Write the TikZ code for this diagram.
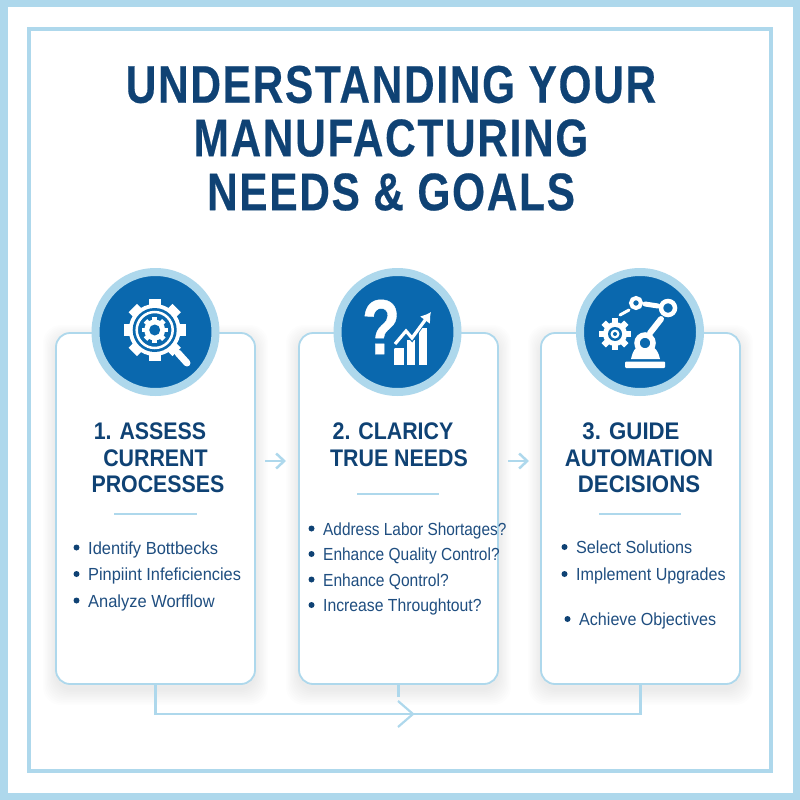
\documentclass[tikz,border=0pt]{standalone}
\usepackage{fontspec}
\setmainfont{Liberation Sans}
\usetikzlibrary{calc,positioning,arrows.meta,backgrounds}

\definecolor{framecol}{HTML}{AED8EC}
\definecolor{bluecol}{HTML}{0A68AE}
\definecolor{navycol}{HTML}{0F4274}
\definecolor{bodycol}{HTML}{1F4E80}

\tikzset{
	card/.style={draw=framecol, line width=1.8pt, rounded corners=14pt, fill=white, minimum width=199pt, minimum height=351pt, inner sep=0pt, outer sep=0pt},
	badge/.style={circle, draw=framecol, line width=8pt, fill=bluecol, minimum size=120pt, inner sep=0pt, outer sep=0pt},
	maintitle/.style={text=navycol, font=\fontsize{53}{53}\selectfont\bfseries\addfontfeature{LetterSpace=4,FakeBold=.4}, xscale=.8, inner sep=0pt},
	cardtitle/.style={text=navycol, font=\fontsize{24}{24}\selectfont\bfseries, xscale=.89, inner sep=0pt},
	bullet/.style={text=bodycol, font=\fontsize{17.5}{18}\selectfont, anchor=base west, inner sep=0pt},
	dot/.style={circle, fill=navycol, minimum size=6pt, inner sep=0pt},
	link/.style={draw=framecol, line width=2.2pt},
	nextarrow/.style={draw=framecol, line width=2.5pt, -{Straight Barb[length=8pt,width=15pt,line width=2.5pt]}},
	iconline/.style={draw=white, line cap=round},
}

% gear: centre, body radius, tooth tip radius, hole radius
\newcommand{\geartooth}[4]{
	\foreach \a in {0,45,...,315}
		\fill[white, rotate around={\a:(#1)}] ($(#1)+(-.19*#3,0)$) rectangle ($(#1)+(.19*#3,-#3)$);
	\fill[white] (#1) circle (#2);
	\fill[bluecol] (#1) circle (#4);
}

\begin{document}
\begin{tikzpicture}[x=1pt,y=-1pt]
		\useasboundingbox (0,0) rectangle (800,800);
		\draw[framecol, line width=7.5pt] (3.75,3.75) rectangle (796.25,796.25);
		\draw[framecol, line width=3.5pt] (29,29) rectangle (771,771);

		\node[maintitle] (titleA) at (391,84.5) {UNDERSTANDING YOUR};
		\node[maintitle] (titleB) at (391,138) {MANUFACTURING};
		\node[maintitle] (titleC) at (391,192) {NEEDS \& GOALS};

		\node[card] (cardA) at (155.5,508.5) {};
		\node[card] (cardB) at (398.5,508.5) {};
		\node[card] (cardC) at (640.5,508.5) {};

		\begin{scope}[on background layer]
			\foreach \s in {1,...,10}
				\foreach \c in {cardA,cardB,cardC}
					\fill[black, opacity=.006, rounded corners=18pt] ($(\c.north west)+(-1.3*\s,-1.3*\s+5)$) rectangle ($(\c.south east)+(1.3*\s,1.6*\s+5)$);
		\end{scope}

		\node[badge] (badgeA) at (155.5,332) {};
		\node[badge] (badgeB) at (397.5,332) {};
		\node[badge] (badgeC) at (640,332) {};

		% gear and lens
		\coordinate (gearA) at (154.7,330);
		\geartooth{gearA}{26}{31}{22}
		\draw[white, line width=2.5pt] (gearA) circle (18);
		\geartooth{gearA}{10.5}{13}{5.5}
		\draw[white, line width=3pt] (171,346) -- (178,353);
		\draw[iconline, line width=7pt] (178,353) -- (187,363);

		% question and chart
		\node[text=white, font=\fontsize{78}{78}\selectfont\bfseries\addfontfeature{FakeBold=.6}, xscale=.8, inner sep=0pt] (askmark) at (381,327) {?};
		\fill[white] (394,365) rectangle (403.5,348);
		\fill[white] (407,365) rectangle (415,340);
		\fill[white] (419,365) rectangle (427,328);
		\draw[bluecol, line width=5.5pt] (392,347) -- (406,331) -- (412,338) -- (428,315);
		\draw[white, line width=3.2pt, -{Latex[length=10pt,width=13pt]}] (395,344) -- (406,331) -- (412,338) -- (431,312);

		% robot arm
		\coordinate (gearC) at (615,334);
		\geartooth{gearC}{12}{16}{7}
		\fill[white] (gearC) circle (4.5);
		\fill[bluecol] (gearC) circle (2);
		\draw[iconline, line width=3pt] (620,315) -- (629,310);
		\draw[iconline, line width=5pt] (645,304) -- (658,306);
		\draw[iconline, line width=6pt] (661,319) -- (650,333);
		\fill[white] (631,359) .. controls (633,350) and (636,345) .. (645,345) .. controls (654,345) and (658,350) .. (660,359) -- cycle;
		\fill[white, rounded corners=1pt] (625,361.5) rectangle (665,368);
		\draw[white, line width=4pt, fill=bluecol] (636,303) circle (5);
		\draw[white, line width=4.5pt, fill=bluecol] (668,308) circle (7);
		\draw[white, line width=5.5pt, fill=bluecol] (645,343) circle (8);

		\node[cardtitle] (headA) at (150,431) {1. ASSESS};
		\node[cardtitle] (headB) at (155.5,458) {CURRENT};
		\node[cardtitle] (headC) at (158,484) {PROCESSES};
		\node[cardtitle] (headD) at (393,431) {2. CLARICY};
		\node[cardtitle] (headE) at (399,458) {TRUE NEEDS};
		\node[cardtitle, xscale=1.04] (headF) at (631,431) {3. GUIDE};
		\node[cardtitle, xscale=1.04] (headG) at (639,458) {AUTOMATION};
		\node[cardtitle, xscale=1.04] (headH) at (639,484) {DECISIONS};

		\draw[framecol, line width=1.8pt] (114,514) -- (197,514);
		\draw[framecol, line width=1.8pt] (357,494) -- (439,494);
		\draw[framecol, line width=1.8pt] (599,514) -- (681,514);

		\foreach \n/\x/\y/\w/\t in {a/88/554/.94/Identify Bottbecks, b/88/580.5/.935/Pinpiint Infeficiencies, c/88/607/.94/Analyze Worfflow,
			d/323/535/.88/Address Labor Shortages?, e/323/560.5/.885/Enhance Quality Control?, f/323/586/.89/Enhance Qontrol?, g/323/611.5/.9/Increase Throughtout?,
			h/576/553.5/.925/Select Solutions, i/576/580.5/.92/Implement Upgrades, j/579/625.5/.92/Achieve Objectives} {
			\node[bullet, xscale=\w] (item\n) at (\x,\y) {\t};
			\node[dot] (dot\n) at ($(item\n.base west)+(-11.5,-6.5)$) {};
		}

		% arrows between the cards
		\coordinate (stepAin) at (265,461);
		\coordinate (stepAout) at (286,461);
		\coordinate (stepBin) at (508,461);
		\coordinate (stepBout) at (529,461);
		\draw[nextarrow] (stepAin) -- (stepAout);
		\draw[nextarrow] (stepBin) -- (stepBout);

		% return line under the cards
		\coordinate (tip) at (413,714);
		\coordinate (wingA) at (398,701);
		\coordinate (wingB) at (398,727);
		\coordinate (stubB) at (398.5,697);
		\draw[link] (cardA.south) |- (tip) -| (cardC.south);
		\draw[link] (cardB.south) -- (stubB);
		\draw[link] (wingA) -- (tip) -- (wingB);
	\end{tikzpicture}
\end{document}
